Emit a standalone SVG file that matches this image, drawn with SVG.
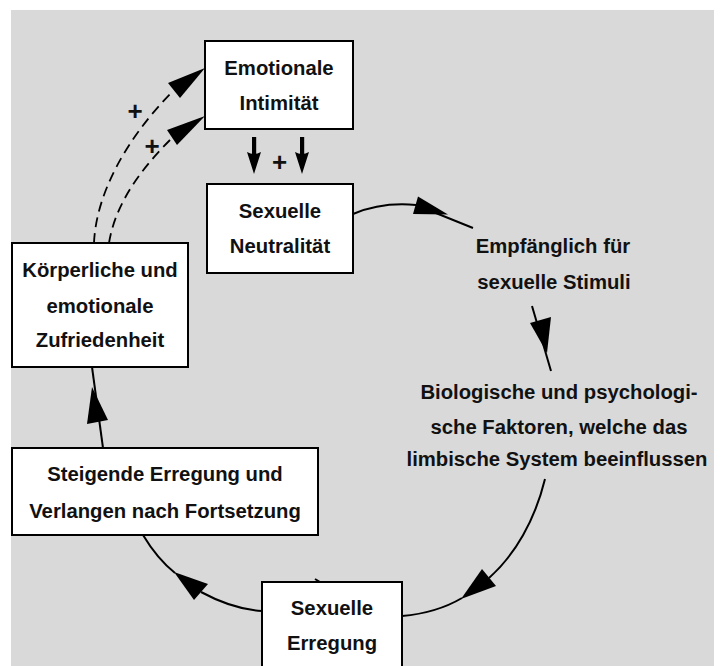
<svg xmlns="http://www.w3.org/2000/svg" width="726" height="666" viewBox="0 0 726 666">
<style>
.box{fill:#fff;stroke:#000;stroke-width:2}
.t{font-family:"Liberation Sans",Arial,sans-serif;font-weight:bold;font-size:20.3px;fill:#111;text-anchor:middle}
.p{font-family:"Liberation Sans",Arial,sans-serif;font-weight:bold;font-size:26px;fill:#111;text-anchor:middle}
.ln{fill:none;stroke:#000;stroke-width:2}
.ds{fill:none;stroke:#000;stroke-width:1.8;stroke-dasharray:10 6}
.ah{fill:#000;stroke:none}
</style>
<rect x="0" y="0" width="726" height="666" fill="#fff"/>
<rect x="11" y="10" width="703" height="656" fill="#d9d9d9"/>

<g id="connectors">
  <!-- dashed feedback arrows -->
  <path class="ds" d="M94,243 C96,195 125,140 172,92"/>
  <polygon class="ah" points="205,68 168,83 180,98"/>
  <path class="ds" d="M109,243 C115,205 140,170 170,140"/>
  <polygon class="ah" points="205,116 167,130 177,145"/>
  <!-- thick arrows down -->
  <rect class="ah" x="252" y="137" width="4.2" height="17"/>
  <path class="ah" d="M247,152 Q254,156 261,152 L254,174 Z"/>
  <rect class="ah" x="300" y="137" width="4.2" height="17"/>
  <path class="ah" d="M295,152 Q302,156 309,152 L302,174 Z"/>
  <!-- Neutralitaet -> Empfaenglich -->
  <path class="ln" d="M353,214 C372,206 395,203 416,205 L473,228"/>
  <polygon class="ah" points="418,196.5 448,214.5 413,214"/>
  <!-- Empfaenglich -> Biologische -->
  <path class="ln" d="M532,306 L551,371"/>
  <polygon class="ah" points="530,323 551,317 547,353"/>
  <!-- Biologische -> Erregung -->
  <path class="ln" d="M545,479 C535,520 515,555 489,578 M462,598 C445,608 425,614 402,616"/>
  <polygon class="ah" points="482,569 496,586 461,599"/>
  <!-- Erregung -> Steigende -->
  <path class="ln" d="M262,611 C245,610 225,605 201,592 M175,573 C165,565 152,550 143,535"/>
  <polygon class="ah" points="194,600 208,584 174,572"/>
  <!-- Steigende -> Koerperliche -->
  <path class="ln" d="M103,448 L92,367"/>
  <polygon class="ah" points="87,424 108,420 92,387"/>
  <path class="ln" d="M315,579 L320,582"/>
</g>

<g id="emotionale-intimitaet">
  <rect class="box" x="205" y="41" width="148" height="88"/>
  <text class="t" x="279" y="75">Emotionale</text>
  <text class="t" x="279" y="110">Intimität</text>
</g>
<g id="plus-labels">
  <text class="p" x="135" y="120">+</text>
  <text class="p" x="152" y="155">+</text>
  <text class="p" x="279.5" y="171">+</text>
</g>
<g id="sexuelle-neutralitaet">
  <rect class="box" x="207" y="184" width="146" height="89"/>
  <text class="t" x="280" y="218">Sexuelle</text>
  <text class="t" x="280" y="253">Neutralität</text>
</g>
<g id="empfaenglich">
  <text class="t" x="553" y="253">Empfänglich für</text>
  <text class="t" x="554" y="289">sexuelle Stimuli</text>
</g>
<g id="biologische">
  <text class="t" x="559" y="399">Biologische und psychologi-</text>
  <text class="t" x="559" y="434">sche Faktoren, welche das</text>
  <text class="t" x="557" y="466">limbische System beeinflussen</text>
</g>
<g id="sexuelle-erregung">
  <rect class="box" x="262" y="582" width="140" height="100"/>
  <text class="t" x="332" y="615">Sexuelle</text>
  <text class="t" x="332" y="650">Erregung</text>
</g>
<g id="steigende-erregung">
  <rect class="box" x="12" y="448" width="306" height="87"/>
  <text class="t" x="165" y="481">Steigende Erregung und</text>
  <text class="t" x="165" y="518">Verlangen nach Fortsetzung</text>
</g>
<g id="koerperliche-zufriedenheit">
  <rect class="box" x="12" y="243" width="176" height="124"/>
  <text class="t" x="100" y="277">Körperliche und</text>
  <text class="t" x="100" y="313">emotionale</text>
  <text class="t" x="100" y="347">Zufriedenheit</text>
</g>
</svg>
